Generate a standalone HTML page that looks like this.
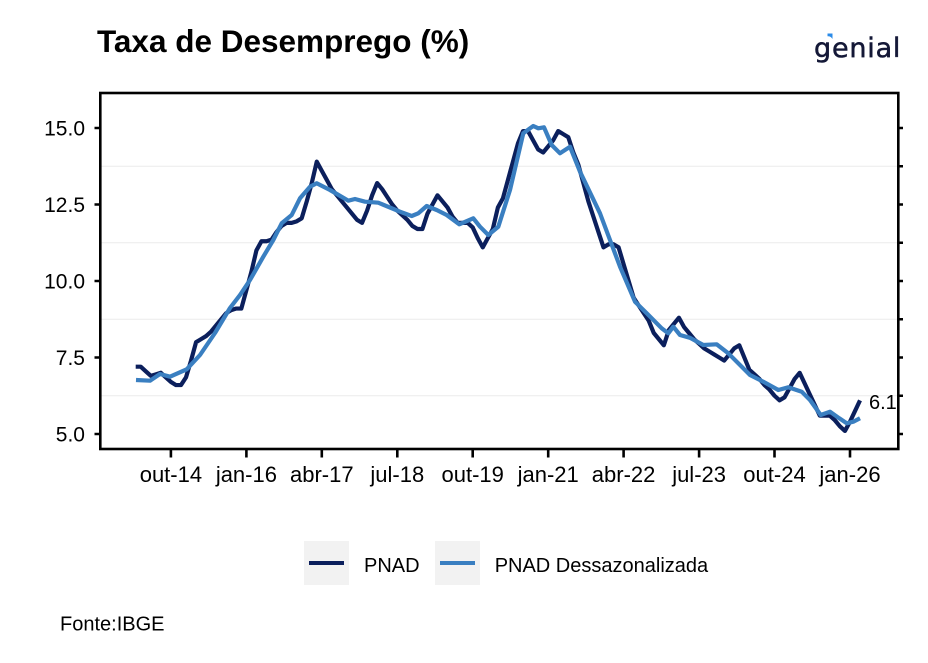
<!DOCTYPE html>
<html>
<head>
<meta charset="utf-8">
<style>
  html, body { margin: 0; padding: 0; background: #ffffff; }
  svg { display: block; }
  text { font-family: "Liberation Sans", Arial, sans-serif; fill: #000; }
</style>
</head>
<body>
<svg width="928" height="663" viewBox="0 0 928 663" xmlns="http://www.w3.org/2000/svg">
  <rect x="0" y="0" width="928" height="663" fill="#ffffff"/>

  <!-- Title -->
  <text x="97" y="52" font-size="31.5" font-weight="bold">Taxa de Desemprego (%)</text>

  <!-- Logo -->
  <text x="814" y="57" font-size="27" letter-spacing="0.8" style="font-family:'DejaVu Sans', sans-serif; fill:#141837; stroke:#141837; stroke-width:0.5;">genial</text>
  <path d="M827.5,33.5 L832.5,33.5 L832.5,39 Q830.5,36 827.5,36.3 Z" fill="#2b8be8"/>

  <!-- Minor gridlines -->
  <g stroke="#ebebeb" stroke-width="1.1">
    <line x1="101" y1="166.25" x2="897" y2="166.25"/>
    <line x1="101" y1="242.75" x2="897" y2="242.75"/>
    <line x1="101" y1="319.25" x2="897" y2="319.25"/>
    <line x1="101" y1="395.75" x2="897" y2="395.75"/>
  </g>

  <!-- PNAD (dark) -->
  <polyline transform="matrix(5.03 0 0 -30.6 135.7 587)" vector-effect="non-scaling-stroke"
    fill="none" stroke="#0b1f5c" stroke-width="4.2" stroke-linejoin="round"
    points="0,7.2 1,7.2 2,7.05 3,6.9 4,6.95 5,7.0 6,6.85 7,6.7 8,6.6 9,6.6
            10,6.85 11,7.4 12,8.0 13,8.1 14,8.2 15,8.35 16,8.55 17,8.75 18,8.95 19,9.05 20,9.1 21,9.1
            22,9.7 23,10.3 24,11.0 25,11.3 26,11.3 27,11.35 28,11.6 29,11.8 30,11.9 31,11.9 32,11.95 33,12.05
            34,12.6 35,13.2 36,13.9 37,13.6 38,13.3 39,13.0 40,12.8 41,12.6 42,12.4 43,12.2 44,12.0 45,11.9
            46,12.3 47,12.8 48,13.2 49,13.0 50,12.75 51,12.5 52,12.3 53,12.15 54,12.0 55,11.8 56,11.7 57,11.7
            58,12.2 59,12.5 60,12.8 61,12.6 62,12.4 63,12.1 64,11.9 65,11.9 66,11.9 67,11.75 68,11.4 69,11.1
            70,11.4 71,11.7 72,12.4 73,12.7 74,13.3 75,13.9 76,14.5 77,14.9 78,14.9 79,14.6 80,14.3 81,14.2
            82,14.4 83,14.6 84,14.9 85,14.8 86,14.7 87,14.2 88,13.8 89,13.2 90,12.6 91,12.1 92,11.6 93,11.1
            94,11.2 95,11.2 96,11.1 97,10.55 98,10.0 99,9.45 100,9.2 101,8.95 102,8.7 103,8.3 104,8.1 105,7.9
            106,8.4 107,8.6 108,8.8 109,8.5 110,8.3 111,8.1 112,7.95 113,7.8 114,7.7 115,7.6 116,7.5 117,7.4
            118,7.6 119,7.8 120,7.9 121,7.5 122,7.1 123,6.95 124,6.8 125,6.6 126,6.45 127,6.25 128,6.1 129,6.2
            130,6.5 131,6.8 132,7.0 133,6.65 134,6.3 135,5.95 136,5.6 137,5.6 138,5.6 139,5.45 140,5.25 141,5.1
            142,5.4 143,5.75 144,6.1"/>

  <!-- PNAD Dessazonalizada (light) -->
  <polyline fill="none" stroke="#3a7fc1" stroke-width="4.2" stroke-linejoin="round"
    points="136,380 150,380.7 160,374 170,376.7 186.7,369.3 200,355 215,333 230,308 240,295 250,280
            263.3,256.7 273.3,240 281.7,223.3 291.7,215 300,198.3 310,186.7 316.7,183.3 330,190 348.3,200.7
            355,199 365,201.7 378.3,202.7 400,211.7 411.7,216 418.3,213.3 426.7,206 436.7,210 446.7,215
            459.3,224.3 473.3,218.3 480,226.7 488.3,235 498.3,226.7 510,190 523.3,133.3 530,128.3 533.3,126
            538.3,128.3 544,127.3 551.7,145 560,153.3 570,146.7 580,171.7 600,213.3 620,266.7 635,301.7
            646.7,313.3 661.7,328.3 668.3,333.3 673.3,326.7 680,335 690,337.8 703.3,345 716.7,344.3
            728.3,353.3 750,375 763.3,381.7 778.3,390 788.3,387.3 801.7,391.7 810,400 820.7,415 830,411.7
            839.3,418.3 846.7,423.3 853.3,421.7 860,418.3"/>

  <!-- End label -->
  <text x="869" y="409" font-size="20">6.1</text>

  <!-- Panel border -->
  <rect x="100.3" y="93" width="798" height="356" fill="none" stroke="#000" stroke-width="2.6"/>

  <!-- Left ticks -->
  <g stroke="#000" stroke-width="2.5">
    <line x1="94.5" y1="128" x2="100" y2="128"/>
    <line x1="94.5" y1="204.5" x2="100" y2="204.5"/>
    <line x1="94.5" y1="281" x2="100" y2="281"/>
    <line x1="94.5" y1="357.5" x2="100" y2="357.5"/>
    <line x1="94.5" y1="434" x2="100" y2="434"/>
  </g>
  <!-- Right ticks -->
  <g stroke="#000" stroke-width="2.5">
    <line x1="898" y1="128" x2="903" y2="128"/>
    <line x1="898" y1="166.25" x2="903" y2="166.25"/>
    <line x1="898" y1="204.5" x2="903" y2="204.5"/>
    <line x1="898" y1="242.75" x2="903" y2="242.75"/>
    <line x1="898" y1="281" x2="903" y2="281"/>
    <line x1="898" y1="319.25" x2="903" y2="319.25"/>
    <line x1="898" y1="357.5" x2="903" y2="357.5"/>
    <line x1="898" y1="395.75" x2="903" y2="395.75"/>
    <line x1="898" y1="434" x2="903" y2="434"/>
  </g>
  <!-- Bottom ticks -->
  <g stroke="#000" stroke-width="2.6">
    <line x1="170.9" y1="449" x2="170.9" y2="457.5"/>
    <line x1="246.4" y1="449" x2="246.4" y2="457.5"/>
    <line x1="321.8" y1="449" x2="321.8" y2="457.5"/>
    <line x1="397.3" y1="449" x2="397.3" y2="457.5"/>
    <line x1="472.7" y1="449" x2="472.7" y2="457.5"/>
    <line x1="548.2" y1="449" x2="548.2" y2="457.5"/>
    <line x1="623.6" y1="449" x2="623.6" y2="457.5"/>
    <line x1="699.1" y1="449" x2="699.1" y2="457.5"/>
    <line x1="774.5" y1="449" x2="774.5" y2="457.5"/>
    <line x1="850" y1="449" x2="850" y2="457.5"/>
  </g>

  <!-- Y tick labels -->
  <g font-size="21" text-anchor="end">
    <text x="85" y="135.5">15.0</text>
    <text x="85" y="212">12.5</text>
    <text x="85" y="288.5">10.0</text>
    <text x="85" y="365">7.5</text>
    <text x="85" y="441.5">5.0</text>
  </g>

  <!-- X tick labels -->
  <g font-size="22" text-anchor="middle">
    <text x="170.9" y="482">out-14</text>
    <text x="246.4" y="482">jan-16</text>
    <text x="321.8" y="482">abr-17</text>
    <text x="397.3" y="482">jul-18</text>
    <text x="472.7" y="482">out-19</text>
    <text x="548.2" y="482">jan-21</text>
    <text x="623.6" y="482">abr-22</text>
    <text x="699.1" y="482">jul-23</text>
    <text x="774.5" y="482">out-24</text>
    <text x="850" y="482">jan-26</text>
  </g>

  <!-- Legend -->
  <rect x="304" y="541" width="45" height="44" fill="#f2f2f2"/>
  <line x1="309" y1="563" x2="344" y2="563" stroke="#0b1f5c" stroke-width="4"/>
  <text x="364" y="572" font-size="20">PNAD</text>
  <rect x="435" y="541" width="45" height="44" fill="#f2f2f2"/>
  <line x1="440" y1="563" x2="475" y2="563" stroke="#3a7fc1" stroke-width="4"/>
  <text x="494.7" y="572" font-size="20">PNAD Dessazonalizada</text>

  <!-- Caption -->
  <text x="60" y="630.7" font-size="20">Fonte:IBGE</text>
</svg>
</body>
</html>
